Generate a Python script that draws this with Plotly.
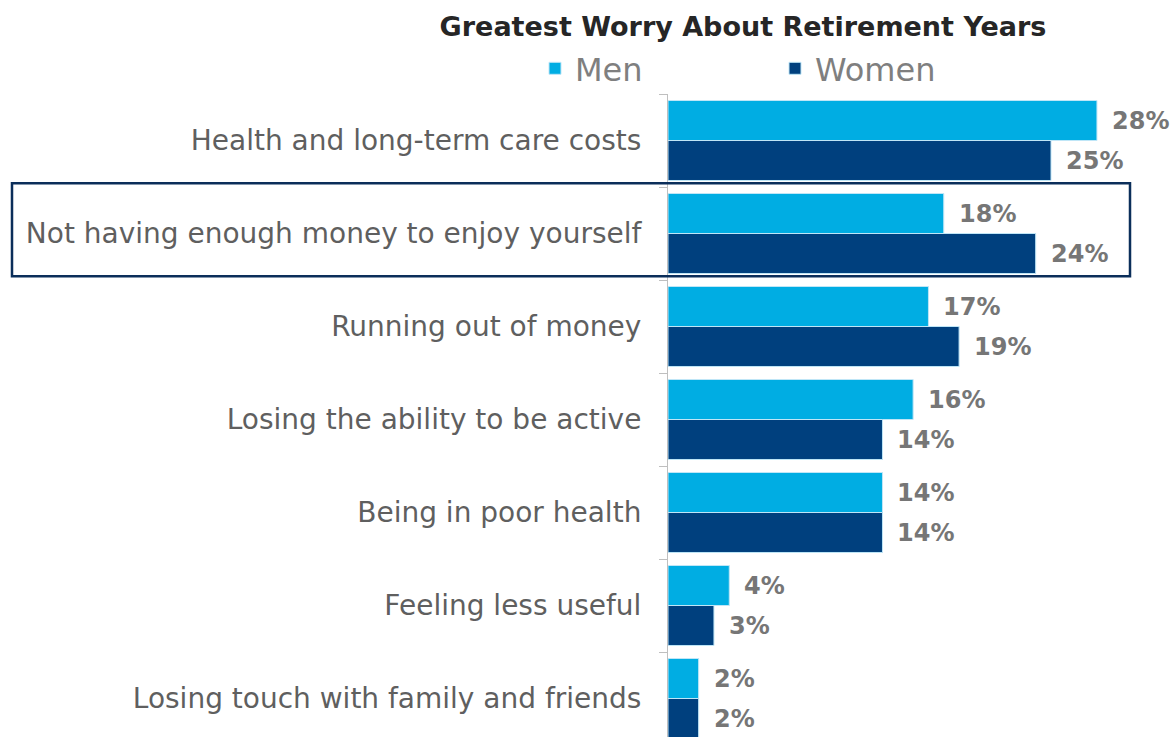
import plotly.graph_objects as go

categories = [
    "Health and long-term care costs",
    "Not having enough money to enjoy yourself",
    "Running out of money",
    "Losing the ability to be active",
    "Being in poor health",
    "Feeling less useful",
    "Losing touch with family and friends",
]
men = [28, 18, 17, 16, 14, 4, 2]
women = [25, 24, 19, 14, 14, 3, 2]

MEN_C = "#00ADE3"
WOMEN_C = "#00407E"
FONT = "DejaVu Sans"

fig = go.Figure()
fig.add_trace(go.Bar(y=categories, x=men, name="Men", orientation="h", legend="legend",
                     marker=dict(color=MEN_C, line=dict(color="#BFE6F7", width=1))))
fig.add_trace(go.Bar(y=categories, x=women, name="Women", orientation="h", legend="legend2",
                     marker=dict(color=WOMEN_C, line=dict(color="#BFE6F7", width=1))))

annotations = []
for c, m, w in zip(categories, men, women):
    annotations.append(dict(x=m, y=c, xref="x", yref="y", text=f"{m}%", showarrow=False,
                            xanchor="left", xshift=13, yshift=20,
                            font=dict(family=FONT, size=24, color="#767676", weight="bold")))
    annotations.append(dict(x=w, y=c, xref="x", yref="y", text=f"{w}%", showarrow=False,
                            xanchor="left", xshift=13, yshift=-20,
                            font=dict(family=FONT, size=24, color="#767676", weight="bold")))

legend_common = dict(orientation="h", xref="container", yref="container", xanchor="left",
                     y=1 - 41 / 737, yanchor="top",
                     font=dict(family=FONT, size=32, color="#7F7F7F"),
                     bgcolor="rgba(0,0,0,0)")

fig.update_layout(
    width=1172, height=737,
    margin=dict(l=668, r=0, t=94, b=0, autoexpand=False),
    paper_bgcolor="white", plot_bgcolor="white",
    barmode="group", bargap=0.14, bargroupgap=0,
    title=dict(text="<b>Greatest Worry About Retirement Years</b>",
               x=743 / 1172, xanchor="center", xref="container",
               y=1 - 27 / 737, yanchor="middle", yref="container",
               font=dict(family=FONT, size=27, color="#262626")),
    legend=dict(x=535 / 1172, **legend_common),
    legend2=dict(x=775 / 1172, **legend_common),
    xaxis=dict(range=[0, 504 / 15.32], visible=False, fixedrange=True),
    yaxis=dict(autorange=False, range=[6.414, -0.5], categoryorder="array",
               categoryarray=categories, showline=True, linecolor="#BFBFBF", linewidth=1,
               ticks="outside", tickson="boundaries", ticklen=8, tickcolor="#BFBFBF",
               ticklabelstandoff=20,
               tickfont=dict(family=FONT, size=28, color="#5F5F5F"), showgrid=False),
    annotations=annotations,
    shapes=[dict(type="rect", xref="paper", yref="y",
                 x0=(12 - 668) / 504, x1=(1130 - 668) / 504, y0=0.46, y1=1.46,
                 line=dict(color="#0B2E5A", width=2.5), fillcolor="rgba(0,0,0,0)", layer="above")],
    showlegend=True,
)

fig.write_html("out.html", config={"displayModeBar": False},
               post_script="document.body.style.margin='0';")
